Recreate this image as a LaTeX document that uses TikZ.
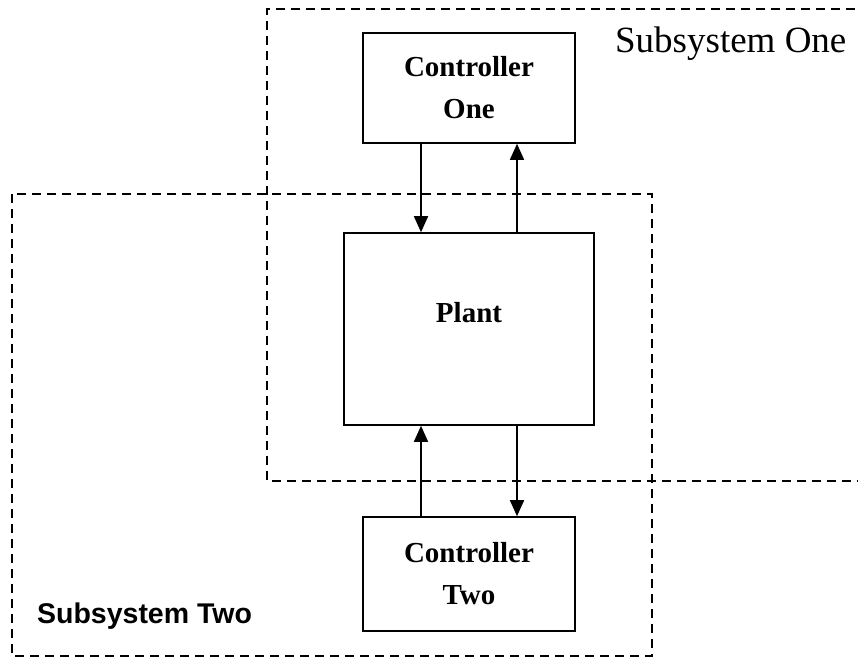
\documentclass[tikz,border=0pt]{standalone}
\usepackage{fontspec}
\setmainfont{Liberation Serif}
\setsansfont{Liberation Sans}
\usetikzlibrary{arrows.meta, calc}
\tikzset{
  every picture/.style={x=1pt, y=-1pt, line width=1.6pt},
  block/.style={draw, rectangle, inner sep=0pt, align=center,
    font=\bfseries\fontsize{29}{42}\selectfont},
  arrow/.style={-{Triangle[length=16pt, width=14pt]}, line width=1.6pt},
  subsys/.style={draw, dash pattern=on 9pt off 6pt, line width=1.6pt},
}

\begin{document}
\begin{tikzpicture}
  \useasboundingbox (0,0) rectangle (858,657);
  % the two overlapping subsystems
  \draw[subsys] (870,9) -- (267,9) -- (267,481) -- (870,481);
  \draw[subsys] (12,194) rectangle (652,656);
  \node[anchor=base west, font=\fontsize{37}{40}\selectfont] (lblone) at (611,52) {Subsystem One};
  \node[anchor=base west, font=\sffamily\bfseries\fontsize{28.5}{32}\selectfont] (lbltwo) at (33,623) {Subsystem Two};
  % controllers and plant
  \node[block, minimum width=212pt, minimum height=110pt] (co) at (469,88) {Controller\\One};
  \node[block, minimum width=250pt, minimum height=192pt, text depth=34pt] (plant) at (469,329) {Plant};
  \node[block, minimum width=212pt, minimum height=114pt] (ct) at (469,574) {Controller\\Two};
  \draw[arrow] ($(co.south)+(-48,0)$) -- ($(plant.north)+(-48,0)$);
  \draw[arrow] ($(plant.north)+(48,0)$) -- ($(co.south)+(48,0)$);
  \draw[arrow] ($(ct.north)+(-48,0)$) -- ($(plant.south)+(-48,0)$);
  \draw[arrow] ($(plant.south)+(48,0)$) -- ($(ct.north)+(48,0)$);
\end{tikzpicture}
\end{document}
